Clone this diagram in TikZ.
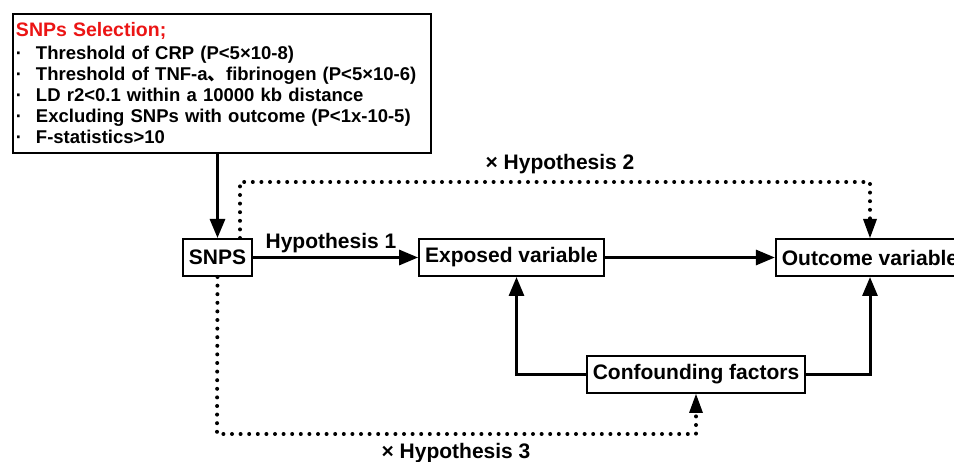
\documentclass[tikz,border=0pt]{standalone}
\usepackage{fontspec}
\setmainfont{Liberation Sans}
\newfontfamily\cjkfont{Noto Sans CJK SC}
\usetikzlibrary{arrows.meta}
\definecolor{selred}{RGB}{235,20,20}
\begin{document}
\begin{tikzpicture}[x=1pt,y=-1pt,
  box/.style={draw,line width=2pt,inner xsep=6pt,inner ysep=0pt,minimum height=37pt,font=\fontsize{21}{25}\selectfont\bfseries},
  lbl/.style={anchor=base,inner sep=0pt,font=\fontsize{21}{25}\selectfont\bfseries},
  arr/.style={line width=3pt,-{Triangle[length=19pt,width=15pt]}},
  dotarr/.style={line width=4pt,line cap=round,dash pattern=on 0pt off 8.6pt,-{Triangle[length=19pt,width=14pt,line width=0pt]}}]
\useasboundingbox (0,0) rectangle (954,462);
\node[draw,line width=2pt,minimum width=418pt,minimum height=139pt,text width=412pt,inner sep=3pt,align=left,anchor=north west,
  font=\fontsize{18.5}{21}\selectfont\bfseries] (sel) at (12,13)
  {{\color{selred}\fontsize{19.5}{21}\selectfont SNPs Selection;}\\[2pt]
   \makebox[20pt][l]{·}Threshold of CRP (P<5×10-8)\\
   \makebox[20pt][l]{·}Threshold of TNF-a{\cjkfont 、}fibrinogen (P<5×10-6)\\
   \makebox[20pt][l]{·}LD r2<0.1 within a 10000 kb distance\\
   \makebox[20pt][l]{·}Excluding SNPs with outcome (P<1x-10-5)\\
   \makebox[20pt][l]{·}F-statistics>10};
\node[box] (snps) at (217.5,257.5) {SNPS};
\node[box] (exp) at (511.5,257.5) {Exposed variable};
\node[box] (out) at (870,257.5) {Outcome variable};
\node[box] (conf) at (696,374.5) {Confounding factors};
\coordinate (h2) at (240,182);
\coordinate (h3) at (217,434);
\draw[arr] (sel.south -| snps.north) -- (snps.north);
\draw[arr] (snps.east) -- (exp.west);
\draw[arr] (exp.east) -- (out.west);
\draw[arr] (conf.west) -| ([xshift=5pt]exp.south);
\draw[arr] (conf.east) -| (out.south);
\draw[dotarr] ([xshift=22.5pt]snps.north) |- (h2 -| out.north) -- (out.north);
\draw[dotarr] (snps.south) -- (h3) -| (conf.south);
\node[lbl] (l1) at (331,249) {Hypothesis 1};
\node[lbl] (l2) at (560,170) {× Hypothesis 2};
\node[lbl] (l3) at (456,459) {× Hypothesis 3};
\end{tikzpicture}
\end{document}
